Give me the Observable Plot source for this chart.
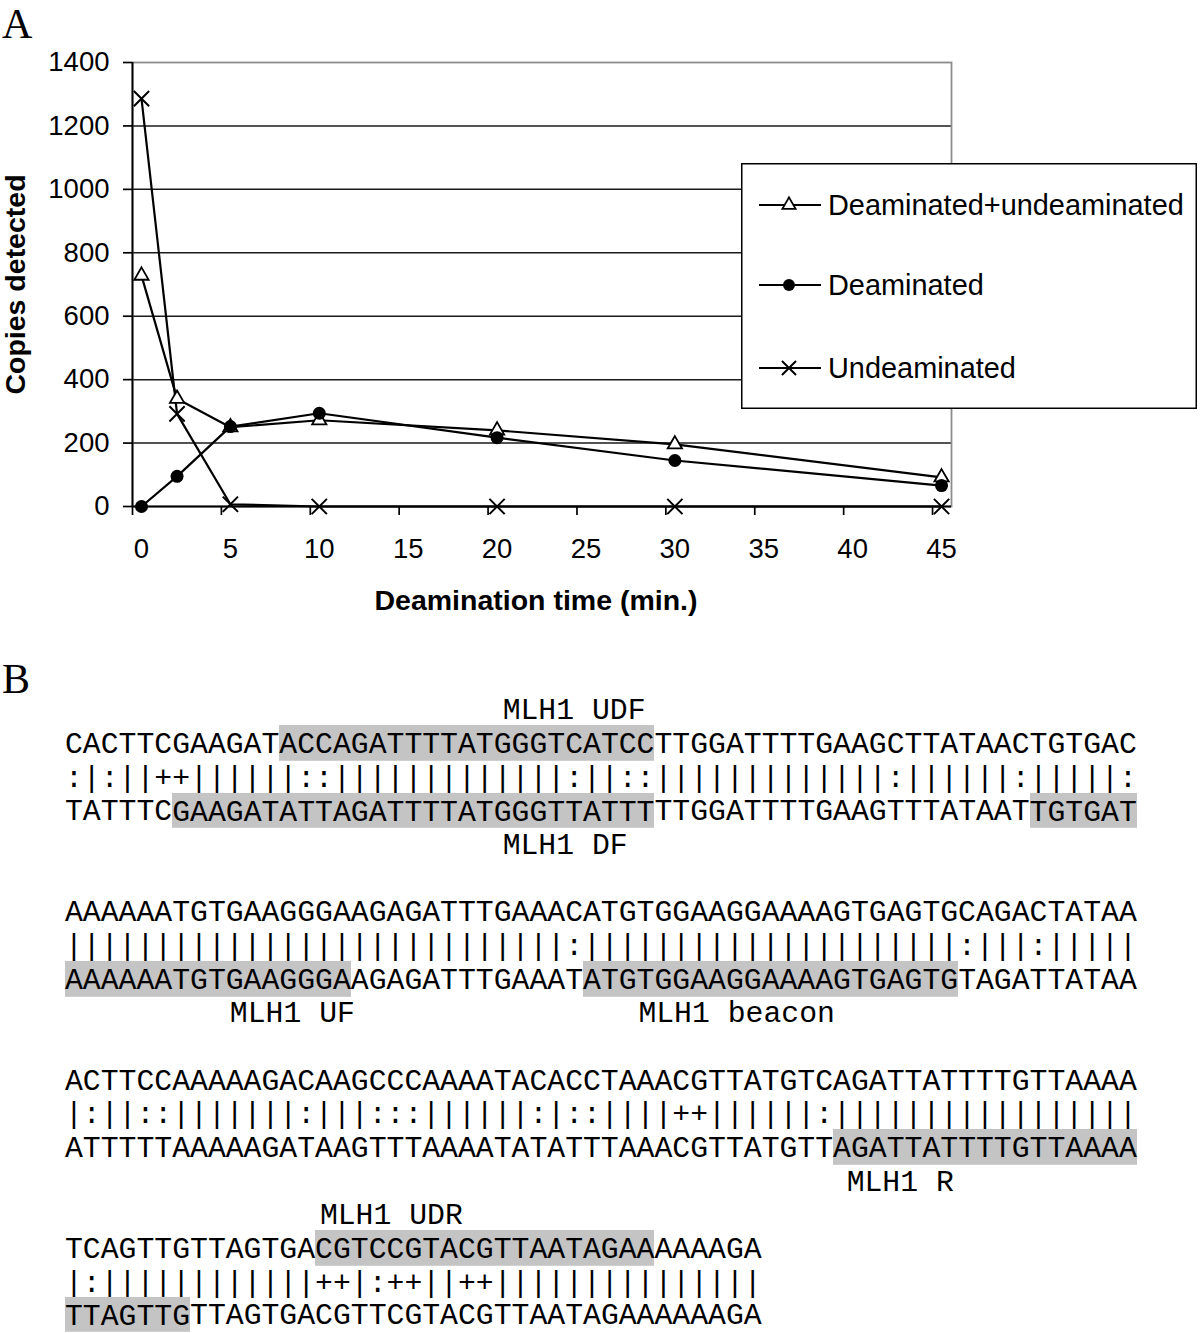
<!DOCTYPE html>
<html><head><meta charset="utf-8">
<script src="https://cdn.jsdelivr.net/npm/d3@7"></script>
<script src="https://cdn.jsdelivr.net/npm/@observablehq/plot@0.6"></script>
<style>
html,body{margin:0;padding:0;background:#fff;overflow:hidden;}
#page{position:relative;width:1200px;height:1333px;overflow:hidden;background:#fff;}
.panel{position:absolute;left:2px;font-family:"Liberation Serif","Times New Roman",serif;font-size:42px;line-height:1;color:#000;}
#chart{position:absolute;left:0;top:0;}
#legend{position:absolute;left:741px;top:163px;}
#align{position:absolute;left:65px;top:695.2px;font-family:"Liberation Mono","Courier New",monospace;font-size:29.78px;color:#000;}
.row{height:33.68px;line-height:33.68px;white-space:pre;position:relative;}
.row.last{height:28px;top:-1.2px;}
.hl{padding-top:2.5px;background:linear-gradient(#c4c4c4,#c4c4c4) top left / 100% calc(100% - 1.2px) no-repeat;}
.lbl{position:absolute;top:0;}
</style></head>
<body>
<div id="page">
  <div class="panel" style="top:2.6px">A</div>
  <div id="chart"></div>
  <div id="legend"></div>
  <div class="panel" style="top:657.6px">B</div>
  <div id="align"></div>
</div>
<script>
// ---------- Panel A data ----------
const times = [0, 2, 5, 10, 20, 30, 45];
const seriesNames = ["Deaminated+undeaminated", "Deaminated", "Undeaminated"];
const totalCopies = [728, 340, 250, 272, 240, 196, 92];
const deaminatedCopies = [0, 95, 252, 294, 217, 145, 66];
const undeaminatedCopies = [1286, 292, 7, 0, 0, 0, 0];
const xTicks = [0, 5, 10, 15, 20, 25, 30, 35, 40, 45];
const yTicks = [0, 200, 400, 600, 800, 1000, 1200, 1400];
const xDomain = [-0.506, 45.56];
const yDomain = [0, 1400];
const xTitle = "Deamination time (min.)";
const yTitle = "Copies detected";

// ---------- Panel B data ----------
const alignTop = [
  "CACTTCGAAGATACCAGATTTTATGGGTCATCCTTGGATTTTGAAGCTTATAACTGTGAC",
  "AAAAAATGTGAAGGGAAGAGATTTGAAACATGTGGAAGGAAAAGTGAGTGCAGACTATAA",
  "ACTTCCAAAAAGACAAGCCCAAAATACACCTAAACGTTATGTCAGATTATTTTGTTAAAA",
  "TCAGTTGTTAGTGACGTCCGTACGTTAATAGAAAAAAGA"
];
const alignMatch = [
  ":|:||++||||||::|||||||||||||:||::|||||||||||||:||||||:|||||:",
  "||||||||||||||||||||||||||||:|||||||||||||||||||||:|||:|||||",
  "|:||::|||||||:|||:::||||||:|::||||++||||||:|||||||||||||||||",
  "|:||||||||||||++|:++||++|||||||||||||||"
];
const alignBottom = [
  "TATTTCGAAGATATTAGATTTTATGGGTTATTTTTGGATTTTGAAGTTTATAATTGTGAT",
  "AAAAAATGTGAAGGGAAGAGATTTGAAATATGTGGAAGGAAAAGTGAGTGTAGATTATAA",
  "ATTTTTAAAAAGATAAGTTTAAAATATATTTAAACGTTATGTTAGATTATTTTGTTAAAA",
  "TTAGTTGTTAGTGACGTTCGTACGTTAATAGAAAAAAGA"
];
// highlighted character ranges [start, end)
const topHighlights = [[[12, 33]], [], [], [[14, 33]]];
const bottomHighlights = [[[6, 33], [54, 60]], [[0, 16], [29, 50]], [[43, 60]], [[0, 7]]];
const primerNames = ["MLH1 UDF", "MLH1 DF", "MLH1 UF", "MLH1 beacon", "MLH1 R", "MLH1 UDR"];
const primerBlock = [0, 0, 1, 1, 2, 3];
const primerSide = ["above", "below", "below", "below", "below", "above"];
const primerColumn = [24.5, 24.5, 9.23, 32.1, 43.76, 14.27];

// ---------- Panel A chart ----------
const valuesBySeries = [totalCopies, deaminatedCopies, undeaminatedCopies];
const data = seriesNames.flatMap((s, k) => times.map((t, i) => ({series: s, time: t, copies: valuesBySeries[k][i]})));
const bySeries = name => data.filter(d => d.series === name);

const symbolStyle = {
  "Deaminated+undeaminated": {symbol: "triangle", r: 5.3, fill: "white", stroke: "black", strokeWidth: 1.8},
  "Deaminated": {symbol: "circle", r: 6.5, fill: "black", stroke: "none"},
  "Undeaminated": {symbol: "times", r: 7, fill: "none", stroke: "black", strokeWidth: 2}
};

const chart = Plot.plot({
  width: 1200, height: 640,
  marginTop: 62, marginBottom: 134, marginLeft: 132, marginRight: 249,
  x: {domain: xDomain},
  y: {domain: yDomain},
  style: {fontFamily: "'Liberation Sans', Arial, sans-serif", fontSize: "27px", color: "black", background: "transparent", overflow: "visible"},
  marks: [
    Plot.gridY(yTicks.filter(v => v > yDomain[0] && v < yDomain[1]), {stroke: "#1a1a1a", strokeOpacity: 1, strokeWidth: 1.5}),
    Plot.frame({stroke: "#8c8c8c", strokeWidth: 1.8}),
    Plot.ruleY([yDomain[0]], {stroke: "black", strokeWidth: 1.9}),
    Plot.ruleX([xDomain[0]], {stroke: "black", strokeWidth: 1.9}),
    Plot.axisY(yTicks, {tickSize: 9, tickPadding: 14, label: null, fontSize: 27.5, strokeWidth: 1.7, tickFormat: d => String(d)}),
    Plot.axisX(xTicks, {tickSize: 9, fill: "none", dx: -9, label: null, strokeWidth: 1.7}),
    Plot.axisX(xTicks, {tickSize: 0, tickPadding: 32, label: null, fontSize: 27.5, tickFormat: d => String(d)}),
    ...seriesNames.map(s => Plot.line(bySeries(s), {x: "time", y: "copies", stroke: "black", strokeWidth: 2.2})),
    ...seriesNames.map(s => Plot.dot(bySeries(s), {x: "time", y: "copies", ...symbolStyle[s]})),
    Plot.text([xTitle], {text: d => d, frameAnchor: "bottom", lineAnchor: "middle", textAnchor: "middle", dy: 94, dx: -6, fontSize: 28.5, fontWeight: "bold"}),
    Plot.text([yTitle], {text: d => d, frameAnchor: "left", lineAnchor: "middle", textAnchor: "middle", rotate: -90, dx: -117, fontSize: 28.5, fontWeight: "bold"})
  ]
});
document.getElementById("chart").append(chart);

// ---------- Legend ----------
(function () {
  const W = 456, H = 246, rowsY = [42, 122, 205];
  const svg = d3.select("#legend").append("svg").attr("width", W).attr("height", H);
  svg.append("rect").attr("x", 0.75).attr("y", 0.75).attr("width", W - 1.5).attr("height", H - 1.5)
    .attr("fill", "white").attr("stroke", "black").attr("stroke-width", 1.5);
  const symMap = {triangle: d3.symbolTriangle, circle: d3.symbolCircle, times: d3.symbolTimes};
  seriesNames.forEach((s, i) => {
    const cy = rowsY[i], st = symbolStyle[s];
    svg.append("line").attr("x1", 18).attr("x2", 80).attr("y1", cy).attr("y2", cy)
      .attr("stroke", "black").attr("stroke-width", 1.9);
    svg.append("path").attr("transform", `translate(48,${cy})`)
      .attr("d", d3.symbol(symMap[st.symbol], Math.PI * st.r * st.r * 0.85)())
      .attr("fill", st.fill).attr("stroke", st.stroke).attr("stroke-width", st.strokeWidth || 0);
    svg.append("text").attr("x", 87).attr("y", cy + 10.3).text(s)
      .attr("font-family", "'Liberation Sans', Arial, sans-serif").attr("font-size", 28.9).attr("fill", "black");
  });
})();

// ---------- Panel B alignment ----------
(function () {
  const host = document.getElementById("align");
  const esc = s => s.replace(/&/g, "&amp;").replace(/</g, "&lt;");
  function seqHTML(seq, ranges) {
    let html = "", pos = 0;
    ranges.forEach(([a, b]) => {
      if (a > pos) html += esc(seq.slice(pos, a));
      html += `<span class="hl">${esc(seq.slice(a, b))}</span>`;
      pos = b;
    });
    html += esc(seq.slice(pos));
    return html;
  }
  function labelRow(block, side) {
    const row = document.createElement("div");
    row.className = "row";
    primerNames.forEach((name, i) => {
      if (primerBlock[i] === block && primerSide[i] === side) {
        const sp = document.createElement("span");
        sp.className = "lbl";
        sp.style.left = primerColumn[i] + "ch";
        sp.textContent = name;
        row.append(sp);
      }
    });
    host.append(row);
    return row;
  }
  function textRow(html) {
    const row = document.createElement("div");
    row.className = "row";
    row.innerHTML = html;
    host.append(row);
    return row;
  }
  alignTop.forEach((t, b) => {
    labelRow(b, "above");
    textRow(seqHTML(t, topHighlights[b]));
    textRow(esc(alignMatch[b]));
    const last = textRow(seqHTML(alignBottom[b], bottomHighlights[b]));
    if (b === alignTop.length - 1) last.classList.add("last");
    else labelRow(b, "below");
  });
})();
</script>
</body></html>
